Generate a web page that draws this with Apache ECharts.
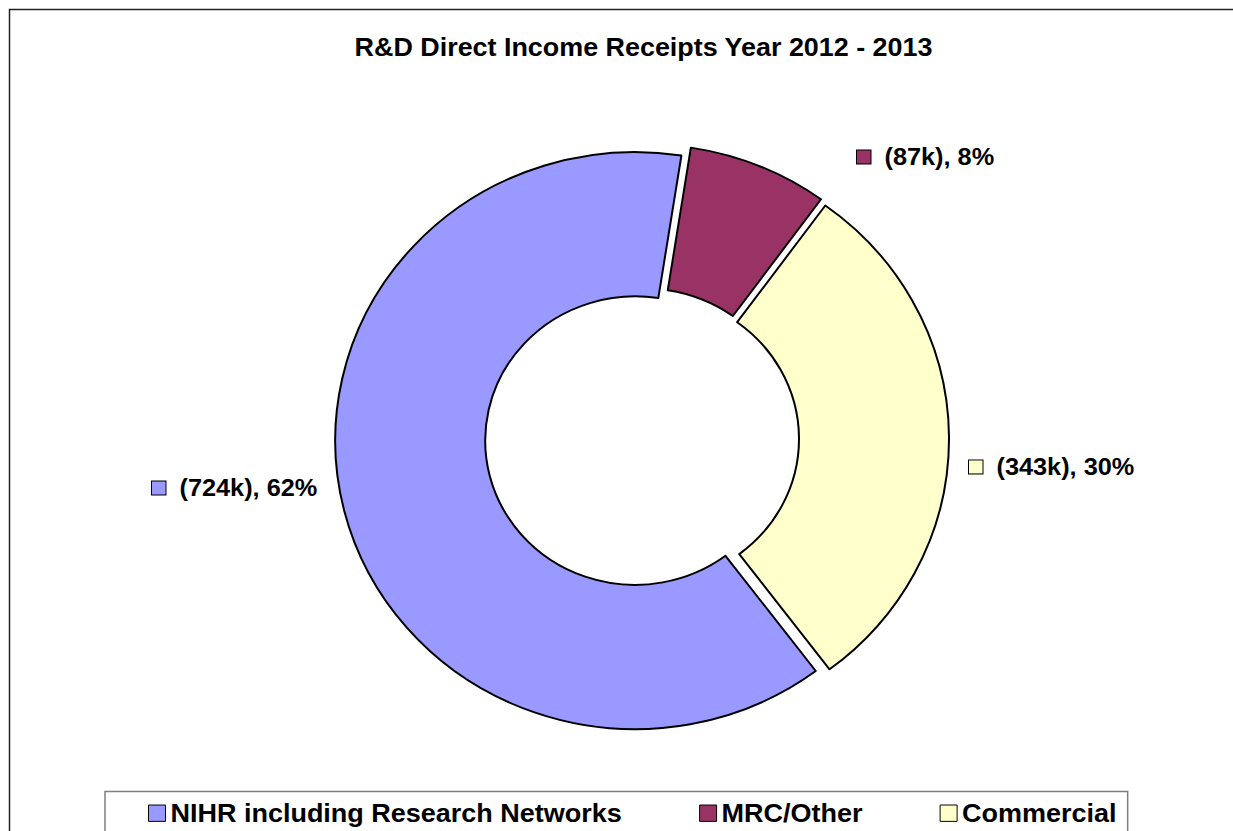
<!DOCTYPE html>
<html>
<head>
<meta charset="utf-8">
<title>R&amp;D Direct Income Receipts Year 2012 - 2013</title>
<script src="https://cdn.jsdelivr.net/npm/echarts/dist/echarts.min.js"></script>
<style>
  html, body { margin: 0; padding: 0; background: #ffffff; overflow: hidden; }
  #wrap { width: 1233px; height: 831px; overflow: hidden; position: relative; }
  /* the drawing is laid out on a slightly taller canvas and squeezed vertically */
  #chart { width: 1233px; height: 864px; transform: scaleY(0.9618); transform-origin: 0 0; }
</style>
</head>
<body>
<div id="wrap"><div id="chart"></div></div>
<script>
// Income sources, amounts in thousands of pounds, and the stated shares
const categories = ['NIHR including Research Networks', 'MRC/Other', 'Commercial'];
const incomeK = [724, 87, 343];
const sharePct = [62, 8, 30];
const sliceColors = ['#9999FF', '#993366', '#FFFFCC'];

// label anchors (left edge of the marker, vertical middle)
const labelAnchors = [[152, 507.4], [857, 163.2], [969, 485.5]];

const FONT = '"Liberation Sans", Arial, Helvetica, sans-serif';
const PIE_CENTER = [642, 456.4];
const PIE_RADIUS = [150, 300];
const START_ANGLE = -53;

const chart = echarts.init(document.getElementById('chart'), null, {
  renderer: 'svg', width: 1233, height: 864
});

// exploded ring slices
const sliceData = categories.map((name, i) => ({
  name: name,
  value: incomeK[i],
  selected: true,
  itemStyle: { color: sliceColors[i] },
  select: { itemStyle: { color: sliceColors[i], borderColor: '#000', borderWidth: 2 } }
}));

// same values again, carrying the value labels
const labelData = categories.map((name, i) => ({
  name: name,
  value: incomeK[i],
  label: {
    formatter: '{m|}{t|(' + incomeK[i] + 'k), ' + sharePct[i] + '%}',
    rich: {
      m: {
        width: 13.5, height: 13.5,
        backgroundColor: sliceColors[i],
        borderColor: '#000', borderWidth: 1
      },
      t: {
        fontFamily: FONT, fontWeight: 'bold', fontSize: 25.3,
        color: '#000', padding: [0, 0, 0, 14]
      }
    }
  }
}));

chart.setOption({
  animation: false,
  backgroundColor: '#ffffff',
  graphic: [
    {
      type: 'rect', silent: true, z: -10,
      shape: { x: 9.5, y: 9.8, width: 1400, height: 1000 },
      style: { fill: 'none', stroke: '#222', lineWidth: 1.5 }
    },
    {
      type: 'text', silent: true,
      x: 643.5, y: 49,
      style: {
        text: 'R&D Direct Income Receipts Year 2012 - 2013',
        fontFamily: FONT, fontWeight: 'bold', fontSize: 26.9,
        fill: '#000', align: 'center', verticalAlign: 'middle'
      }
    }
  ],
  legend: {
    data: categories,
    orient: 'horizontal',
    left: 105, top: 823,
    padding: [9, 11, 40, 43],
    borderColor: '#7f7f7f', borderWidth: 1.5,
    backgroundColor: '#ffffff',
    itemGap: 77,
    itemWidth: 17, itemHeight: 17,
    icon: 'rect',
    itemStyle: { borderColor: '#000', borderWidth: 1 },
    textStyle: { fontFamily: FONT, fontWeight: 'bold', fontSize: 27, color: '#000' },
    selectedMode: false
  },
  series: [
    {
      type: 'pie',
      name: 'slices',
      center: PIE_CENTER,
      radius: PIE_RADIUS,
      startAngle: START_ANGLE,
      clockwise: true,
      selectedMode: 'multiple',
      selectedOffset: 7,
      emphasis: { disabled: true },
      itemStyle: { borderColor: '#000', borderWidth: 2 },
      label: { show: false },
      labelLine: { show: false },
      data: sliceData
    },
    {
      type: 'pie',
      name: 'labels',
      center: PIE_CENTER,
      radius: PIE_RADIUS,
      startAngle: START_ANGLE,
      clockwise: true,
      silent: true,
      selectedMode: false,
      avoidLabelOverlap: false,
      emphasis: { disabled: true },
      itemStyle: { color: 'rgba(0,0,0,0)', borderWidth: 0 },
      label: { show: true, position: 'outside' },
      labelLine: { show: false },
      labelLayout: function (p) {
        const a = labelAnchors[p.dataIndex];
        return { x: a[0], y: a[1], align: 'left', verticalAlign: 'middle' };
      },
      data: labelData
    }
  ]
});
</script>
</body>
</html>
